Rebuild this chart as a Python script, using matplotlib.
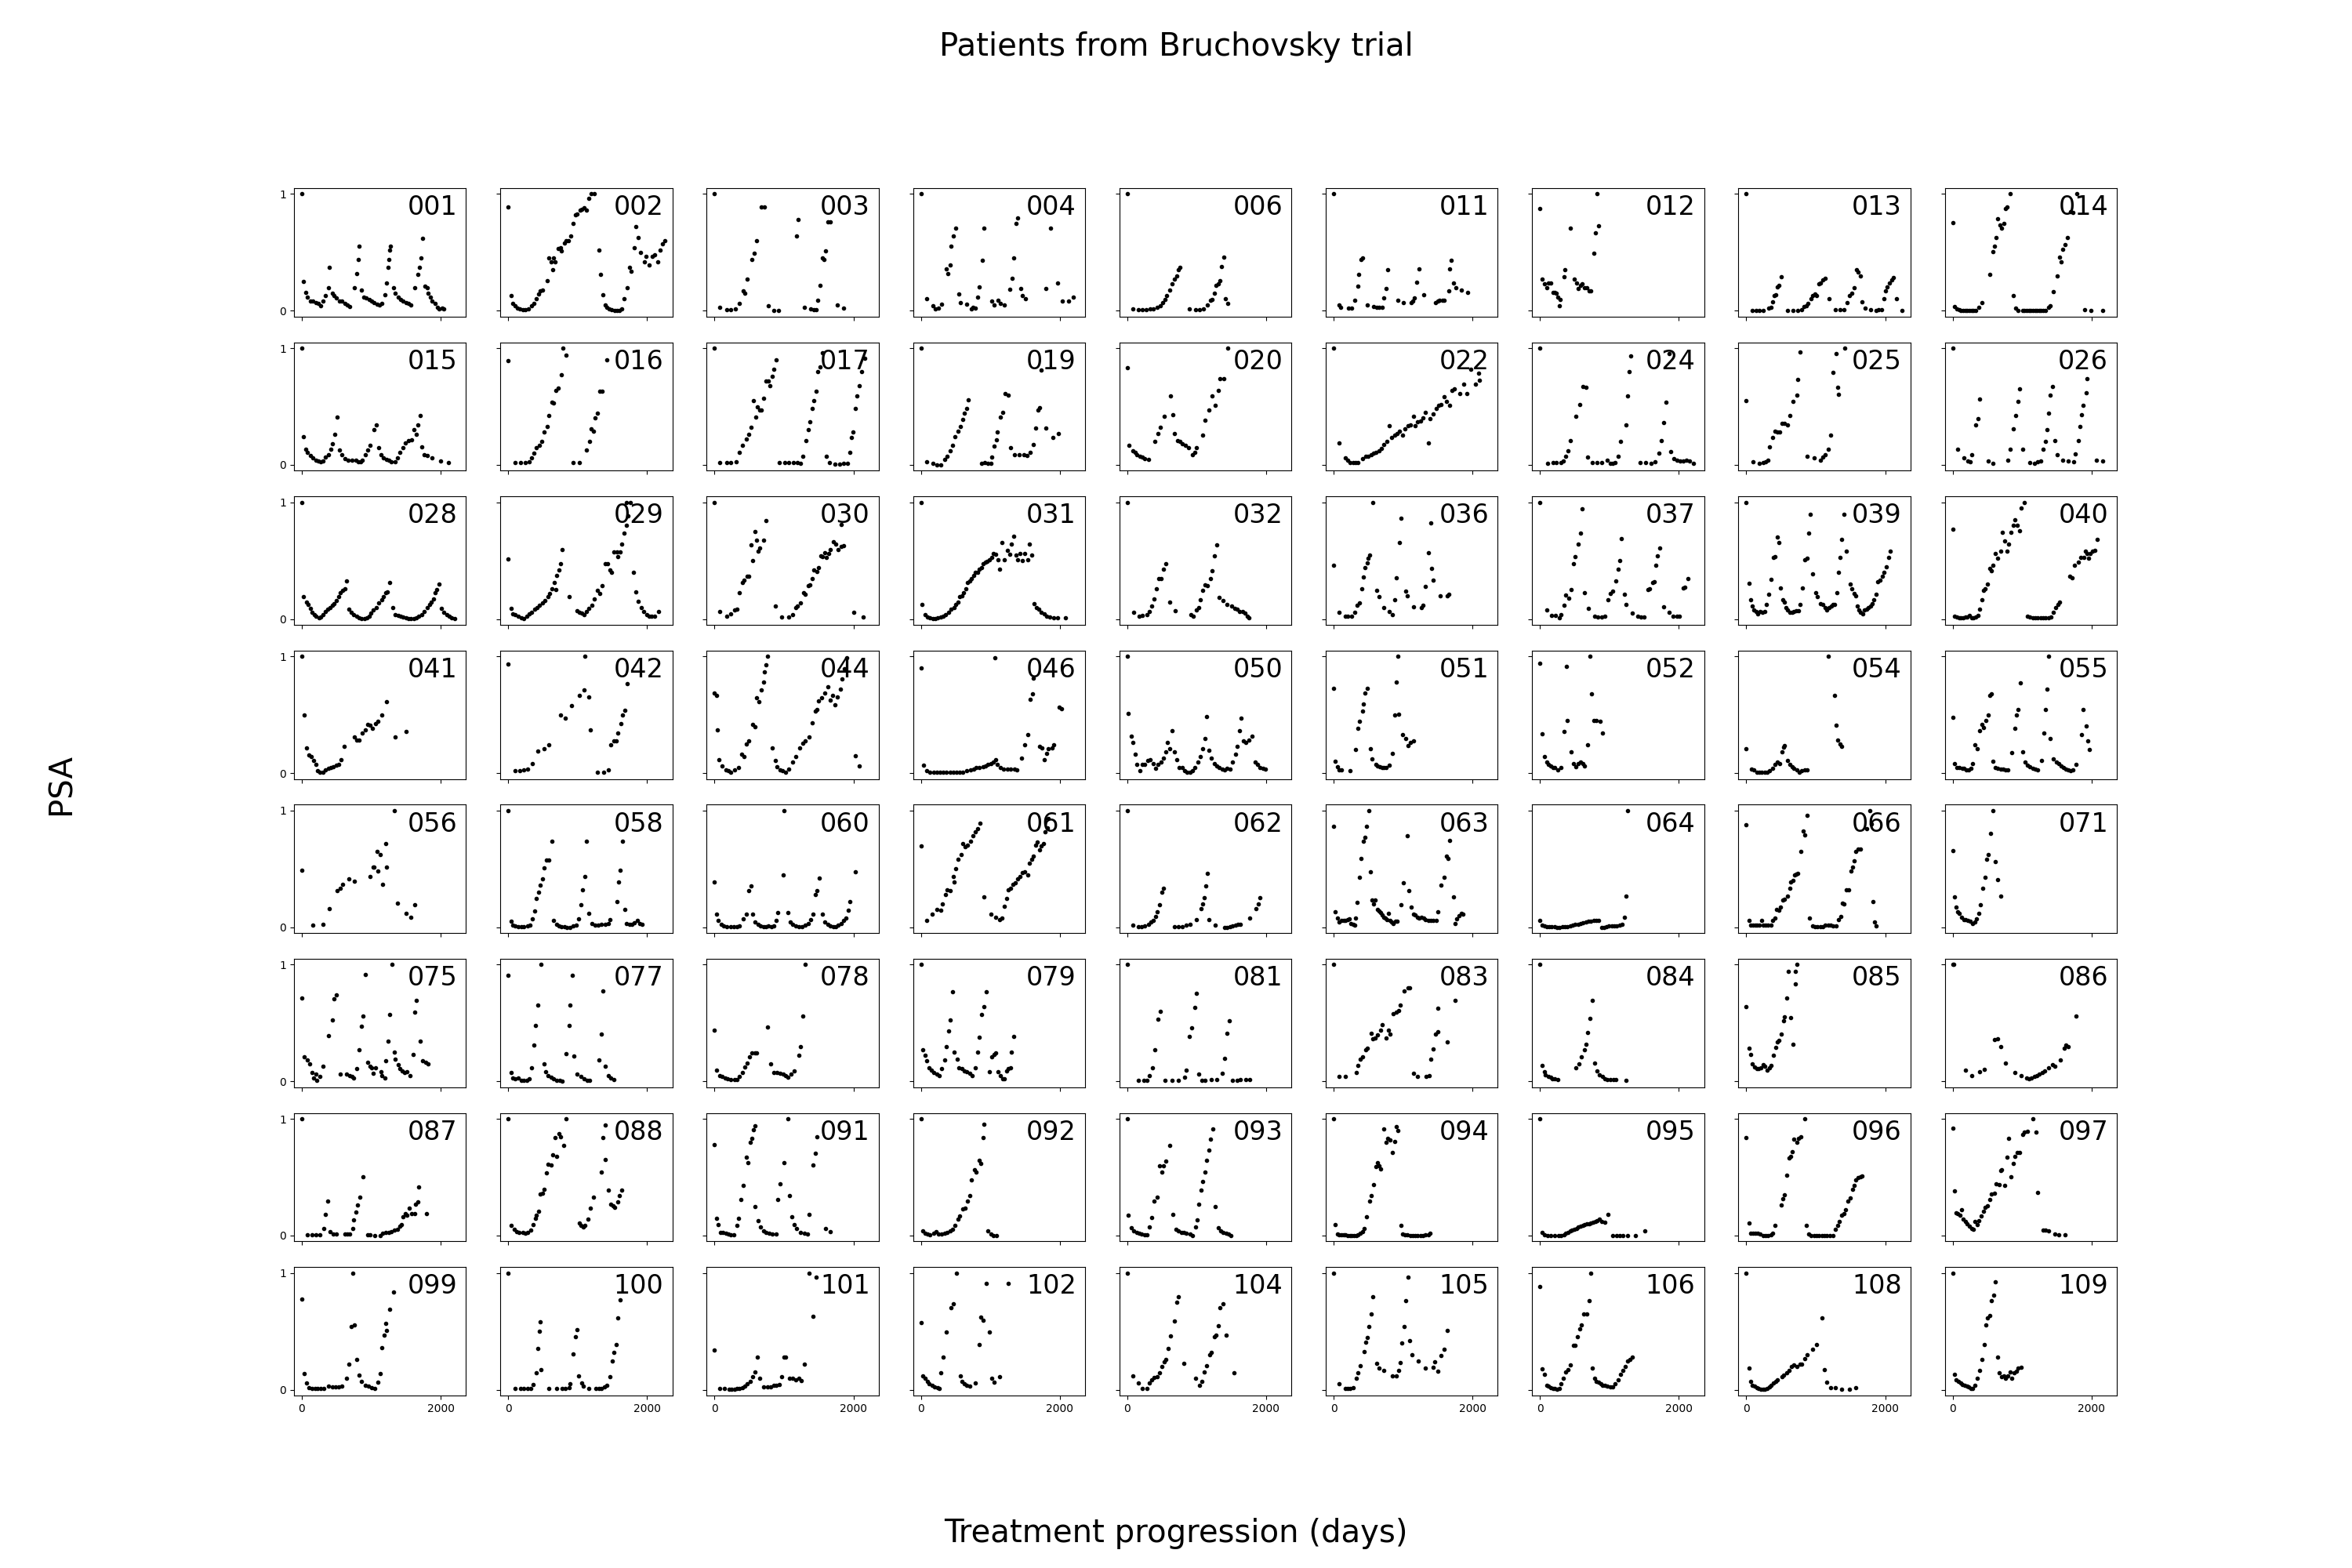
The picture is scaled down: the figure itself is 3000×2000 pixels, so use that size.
import matplotlib
matplotlib.use('Agg')
import matplotlib.pyplot as plt

# (day, normalised PSA) per patient
pts_001 = [(0, 1.0), (28, 0.25), (57, 0.155), (85, 0.12), (123, 0.08), (161, 0.08), (199, 0.07), (237, 0.06), (275, 0.04), (303, 0.08), (341, 0.13), (379, 0.2), (398, 0.37), (436, 0.15), (465, 0.13), (502, 0.11), (540, 0.08), (578, 0.08), (616, 0.065), (654, 0.05), (692, 0.035), (758, 0.2), (796, 0.32), (815, 0.44), (825, 0.55), (853, 0.18), (891, 0.12), (929, 0.11), (967, 0.095), (1005, 0.08), (1043, 0.07), (1081, 0.055), (1119, 0.05), (1147, 0.06), (1194, 0.14), (1223, 0.24), (1242, 0.375), (1251, 0.44), (1261, 0.52), (1280, 0.55), (1318, 0.2), (1346, 0.15), (1384, 0.12), (1422, 0.095), (1460, 0.08), (1498, 0.07), (1536, 0.06), (1574, 0.05), (1631, 0.2), (1668, 0.31), (1697, 0.375), (1716, 0.45), (1744, 0.62), (1773, 0.21), (1801, 0.2), (1820, 0.15), (1849, 0.12), (1877, 0.08), (1915, 0.06), (1953, 0.03), (1981, 0.015), (2019, 0.02), (2048, 0.015)]
pts_002 = [(0, 0.89), (38, 0.13), (66, 0.06), (95, 0.04), (133, 0.02), (171, 0.015), (209, 0.01), (247, 0.01), (295, 0.015), (332, 0.04), (370, 0.065), (408, 0.105), (437, 0.145), (465, 0.17), (494, 0.18), (560, 0.26), (589, 0.45), (617, 0.42), (636, 0.35), (655, 0.45), (674, 0.42), (722, 0.53), (750, 0.54), (769, 0.51), (807, 0.58), (836, 0.6), (864, 0.6), (902, 0.64), (940, 0.75), (969, 0.82), (997, 0.83), (1035, 0.86), (1064, 0.87), (1092, 0.88), (1130, 0.86), (1159, 0.96), (1197, 1.0), (1244, 1.0), (1302, 0.52), (1330, 0.31), (1359, 0.135), (1397, 0.05), (1425, 0.03), (1454, 0.015), (1492, 0.01), (1530, 0.005), (1568, 0.005), (1606, 0.005), (1634, 0.015), (1672, 0.105), (1710, 0.195), (1748, 0.375), (1767, 0.34), (1815, 0.54), (1843, 0.72), (1872, 0.63), (1910, 0.5), (1957, 0.42), (1986, 0.465), (2033, 0.39), (2071, 0.465), (2109, 0.48), (2156, 0.42), (2185, 0.52), (2223, 0.57), (2251, 0.6)]
pts_003 = [(0, 1.0), (76, 0.03), (171, 0.01), (228, 0.01), (295, 0.015), (361, 0.06), (418, 0.17), (437, 0.15), (466, 0.27), (542, 0.44), (570, 0.49), (608, 0.6), (675, 0.89), (713, 0.89), (779, 0.04), (855, 0.005), (922, 0.005), (1178, 0.64), (1207, 0.78), (1292, 0.03), (1387, 0.015), (1425, 0.01), (1463, 0.01), (1482, 0.09), (1520, 0.22), (1558, 0.45), (1577, 0.44), (1596, 0.51), (1634, 0.76), (1672, 0.76), (1767, 0.05), (1862, 0.02)]
pts_004 = [(0, 1.0), (85, 0.105), (171, 0.04), (209, 0.015), (256, 0.02), (294, 0.055), (370, 0.36), (389, 0.32), (418, 0.39), (437, 0.55), (465, 0.64), (503, 0.71), (541, 0.145), (570, 0.07), (655, 0.055), (722, 0.015), (750, 0.03), (779, 0.02), (817, 0.115), (845, 0.205), (883, 0.435), (912, 0.705), (1026, 0.085), (1054, 0.05), (1111, 0.09), (1149, 0.06), (1206, 0.05), (1282, 0.185), (1311, 0.28), (1339, 0.45), (1368, 0.745), (1396, 0.795), (1434, 0.19), (1463, 0.13), (1510, 0.1), (1795, 0.19), (1871, 0.71), (1966, 0.235), (2033, 0.085), (2128, 0.085), (2194, 0.115)]
pts_006 = [(0, 1.0), (76, 0.015), (161, 0.01), (218, 0.01), (276, 0.01), (333, 0.015), (380, 0.015), (428, 0.03), (475, 0.04), (513, 0.07), (541, 0.095), (570, 0.13), (608, 0.18), (646, 0.23), (684, 0.27), (712, 0.3), (741, 0.35), (760, 0.375), (893, 0.015), (988, 0.01), (1045, 0.01), (1102, 0.015), (1159, 0.05), (1197, 0.09), (1225, 0.095), (1254, 0.15), (1282, 0.22), (1311, 0.23), (1330, 0.26), (1358, 0.38), (1387, 0.46), (1415, 0.105), (1444, 0.065)]
pts_011 = [(0, 1.0), (75, 0.05), (97, 0.027), (210, 0.022), (262, 0.022), (307, 0.088), (345, 0.21), (360, 0.31), (390, 0.44), (412, 0.45), (487, 0.05), (577, 0.034), (622, 0.031), (659, 0.031), (697, 0.031), (727, 0.11), (757, 0.19), (779, 0.35), (921, 0.088), (1004, 0.072), (1116, 0.067), (1138, 0.083), (1168, 0.11), (1191, 0.245), (1228, 0.36), (1303, 0.14), (1468, 0.072), (1498, 0.083), (1528, 0.088), (1565, 0.088), (1595, 0.09), (1655, 0.17), (1670, 0.36), (1693, 0.43), (1730, 0.235), (1760, 0.2), (1835, 0.18), (1932, 0.157)]
pts_012 = [(0, 0.875), (37, 0.27), (67, 0.23), (97, 0.2), (127, 0.235), (157, 0.24), (187, 0.157), (217, 0.157), (232, 0.15), (262, 0.117), (285, 0.043), (292, 0.094), (345, 0.29), (360, 0.35), (434, 0.71), (494, 0.27), (524, 0.235), (554, 0.19), (584, 0.22), (607, 0.23), (644, 0.195), (674, 0.195), (704, 0.173), (726, 0.168), (779, 0.49), (801, 0.67), (824, 1.0), (846, 0.73)]
pts_013 = [(0, 1.0), (90, 0.005), (142, 0.0), (187, 0.0), (240, 0.0), (322, 0.022), (352, 0.027), (375, 0.076), (397, 0.128), (419, 0.14), (449, 0.207), (472, 0.218), (502, 0.29), (599, 0.0), (667, 0.0), (742, 0.0), (801, 0.009), (831, 0.038), (861, 0.045), (891, 0.06), (936, 0.1), (958, 0.128), (988, 0.144), (1011, 0.128), (1049, 0.23), (1071, 0.24), (1101, 0.267), (1131, 0.28), (1191, 0.1), (1281, 0.011), (1348, 0.009), (1401, 0.009), (1446, 0.067), (1491, 0.128), (1521, 0.15), (1551, 0.2), (1588, 0.353), (1611, 0.33), (1641, 0.3), (1663, 0.079), (1715, 0.022), (1790, 0.009), (1865, 0.004), (1903, 0.009), (1948, 0.009), (1985, 0.105), (2007, 0.17), (2030, 0.207), (2060, 0.24), (2090, 0.267), (2120, 0.285), (2165, 0.105), (2247, 0.004)]
pts_014 = [(0, 0.757), (30, 0.034), (60, 0.016), (90, 0.009), (120, 0.005), (150, 0.005), (180, 0.005), (210, 0.005), (240, 0.005), (270, 0.005), (300, 0.005), (337, 0.005), (382, 0.027), (419, 0.067), (532, 0.31), (577, 0.505), (599, 0.555), (629, 0.627), (652, 0.79), (682, 0.735), (704, 0.705), (734, 0.75), (764, 0.874), (787, 0.89), (824, 1.0), (869, 0.133), (906, 0.02), (944, 0.004), (1004, 0.004), (1034, 0.004), (1064, 0.004), (1094, 0.004), (1124, 0.004), (1154, 0.004), (1184, 0.004), (1214, 0.004), (1244, 0.004), (1274, 0.004), (1304, 0.004), (1341, 0.004), (1378, 0.027), (1408, 0.045), (1453, 0.166), (1506, 0.297), (1536, 0.46), (1566, 0.42), (1588, 0.528), (1618, 0.566), (1648, 0.627), (1701, 0.85), (1731, 0.84), (1790, 1.0), (1902, 0.009), (1992, 0.0), (2165, 0.0)]
pts_015 = [(0, 1.0), (28, 0.24), (57, 0.135), (85, 0.105), (123, 0.08), (161, 0.06), (199, 0.04), (237, 0.035), (275, 0.03), (303, 0.035), (341, 0.065), (379, 0.09), (418, 0.135), (446, 0.18), (475, 0.265), (503, 0.41), (541, 0.13), (579, 0.087), (617, 0.055), (665, 0.04), (722, 0.04), (779, 0.04), (817, 0.03), (845, 0.03), (874, 0.04), (912, 0.09), (950, 0.13), (979, 0.17), (1035, 0.3), (1073, 0.345), (1102, 0.15), (1140, 0.087), (1178, 0.06), (1216, 0.047), (1254, 0.04), (1292, 0.03), (1340, 0.03), (1377, 0.06), (1415, 0.11), (1453, 0.15), (1491, 0.19), (1539, 0.21), (1577, 0.215), (1615, 0.3), (1643, 0.265), (1672, 0.345), (1700, 0.42), (1729, 0.155), (1767, 0.09), (1805, 0.08), (1872, 0.06), (1995, 0.035), (2109, 0.02)]
pts_016 = [(0, 0.89), (95, 0.02), (180, 0.02), (247, 0.02), (304, 0.025), (342, 0.06), (370, 0.1), (408, 0.145), (446, 0.165), (484, 0.2), (513, 0.28), (560, 0.33), (589, 0.42), (627, 0.54), (655, 0.53), (684, 0.64), (722, 0.66), (760, 0.77), (789, 1.0), (836, 0.94), (931, 0.02), (1026, 0.02), (1130, 0.13), (1168, 0.2), (1197, 0.31), (1225, 0.29), (1254, 0.4), (1282, 0.44), (1320, 0.63), (1349, 0.63), (1415, 0.9)]
pts_017 = [(0, 1.0), (76, 0.02), (171, 0.02), (238, 0.02), (314, 0.025), (361, 0.11), (399, 0.165), (456, 0.22), (494, 0.265), (522, 0.32), (560, 0.55), (589, 0.41), (617, 0.5), (655, 0.47), (674, 0.47), (712, 0.57), (741, 0.72), (769, 0.72), (798, 0.68), (826, 0.76), (855, 0.82), (883, 0.9), (931, 0.02), (1007, 0.02), (1073, 0.02), (1140, 0.02), (1197, 0.02), (1235, 0.01), (1273, 0.075), (1311, 0.21), (1349, 0.3), (1377, 0.37), (1406, 0.48), (1434, 0.55), (1463, 0.63), (1491, 0.8), (1520, 0.84), (1548, 0.96), (1615, 0.075), (1653, 0.02), (1738, 0.005), (1805, 0.005), (1862, 0.01), (1910, 0.015), (1948, 0.11), (1976, 0.235), (1995, 0.28), (2024, 0.48), (2052, 0.59), (2081, 0.68), (2119, 0.8), (2166, 0.91)]
pts_019 = [(0, 1.0), (85, 0.03), (171, 0.015), (228, 0.002), (285, 0.002), (342, 0.047), (380, 0.075), (418, 0.12), (456, 0.17), (494, 0.24), (532, 0.29), (570, 0.33), (598, 0.39), (627, 0.44), (655, 0.48), (684, 0.56), (874, 0.01), (921, 0.02), (959, 0.013), (1007, 0.01), (1026, 0.07), (1054, 0.16), (1083, 0.215), (1102, 0.28), (1140, 0.41), (1178, 0.45), (1216, 0.61), (1254, 0.6), (1292, 0.145), (1349, 0.09), (1415, 0.087), (1482, 0.087), (1529, 0.083), (1577, 0.11), (1624, 0.177), (1653, 0.316), (1681, 0.47), (1710, 0.49), (1729, 0.81), (1795, 0.316), (1900, 0.235), (1976, 0.27)]
pts_020 = [(0, 0.83), (28, 0.165), (76, 0.12), (114, 0.11), (142, 0.087), (180, 0.076), (218, 0.065), (256, 0.055), (304, 0.047), (399, 0.2), (446, 0.27), (475, 0.325), (532, 0.415), (627, 0.59), (655, 0.43), (684, 0.27), (722, 0.21), (760, 0.2), (798, 0.18), (836, 0.165), (883, 0.15), (940, 0.087), (969, 0.11), (997, 0.15), (1083, 0.255), (1121, 0.38), (1178, 0.47), (1225, 0.59), (1263, 0.51), (1311, 0.64), (1339, 0.74), (1396, 0.74), (1444, 1.0)]
pts_022 = [(0, 1.0), (75, 0.19), (165, 0.058), (202, 0.038), (240, 0.02), (277, 0.02), (315, 0.02), (352, 0.02), (412, 0.054), (464, 0.076), (502, 0.076), (539, 0.087), (577, 0.099), (614, 0.11), (652, 0.121), (689, 0.143), (727, 0.177), (764, 0.2), (801, 0.334), (839, 0.233), (876, 0.256), (914, 0.267), (951, 0.29), (989, 0.256), (1026, 0.312), (1071, 0.334), (1108, 0.345), (1146, 0.413), (1176, 0.334), (1213, 0.368), (1251, 0.379), (1288, 0.401), (1326, 0.45), (1363, 0.19), (1386, 0.397), (1438, 0.435), (1476, 0.48), (1513, 0.513), (1551, 0.52), (1588, 0.587), (1626, 0.547), (1670, 0.507), (1700, 0.641), (1738, 0.648), (1813, 0.614), (1873, 0.693), (1918, 0.608), (1978, 0.816), (2038, 0.693), (2090, 0.783), (2098, 0.727)]
pts_024 = [(0, 1.0), (112, 0.01), (187, 0.02), (232, 0.02), (307, 0.02), (337, 0.031), (374, 0.076), (404, 0.121), (434, 0.206), (517, 0.417), (569, 0.518), (622, 0.67), (659, 0.666), (682, 0.065), (749, 0.02), (824, 0.02), (884, 0.02), (974, 0.043), (1011, 0.01), (1049, 0.013), (1086, 0.02), (1123, 0.076), (1161, 0.204), (1236, 0.345), (1258, 0.592), (1281, 0.8), (1311, 0.93), (1446, 0.02), (1521, 0.02), (1596, 0.016), (1656, 0.025), (1708, 0.1), (1746, 0.206), (1783, 0.36), (1813, 0.536), (1858, 0.95), (1888, 0.114), (1933, 0.054), (1970, 0.043), (2023, 0.031), (2068, 0.031), (2112, 0.038), (2157, 0.031), (2210, 0.016)]
pts_025 = [(0, 0.55), (97, 0.025), (187, 0.016), (240, 0.02), (277, 0.025), (315, 0.043), (337, 0.155), (374, 0.233), (412, 0.29), (449, 0.285), (479, 0.285), (517, 0.356), (554, 0.356), (592, 0.345), (629, 0.424), (667, 0.547), (727, 0.596), (741, 0.73), (779, 0.97), (876, 0.076), (974, 0.06), (1064, 0.043), (1101, 0.065), (1138, 0.087), (1176, 0.137), (1213, 0.256), (1251, 0.794), (1288, 0.955), (1311, 0.664), (1326, 0.603), (1423, 1.0)]
pts_026 = [(0, 1.0), (67, 0.132), (157, 0.06), (217, 0.031), (255, 0.025), (277, 0.087), (330, 0.345), (360, 0.395), (390, 0.563), (509, 0.031), (584, 0.013), (794, 0.038), (831, 0.132), (876, 0.307), (906, 0.424), (936, 0.547), (966, 0.648), (1004, 0.132), (1116, 0.02), (1176, 0.016), (1228, 0.025), (1266, 0.031), (1303, 0.132), (1333, 0.204), (1363, 0.3), (1386, 0.442), (1408, 0.596), (1438, 0.67), (1476, 0.206), (1506, 0.087), (1588, 0.043), (1663, 0.031), (1738, 0.025), (1768, 0.092), (1805, 0.206), (1828, 0.33), (1850, 0.43), (1880, 0.51), (1918, 0.62), (1940, 0.738), (2068, 0.038), (2165, 0.031)]
pts_028 = [(0, 1.0), (28, 0.19), (66, 0.145), (95, 0.123), (123, 0.09), (152, 0.06), (180, 0.038), (209, 0.022), (246, 0.011), (275, 0.018), (303, 0.038), (341, 0.067), (370, 0.083), (408, 0.1), (436, 0.118), (465, 0.134), (502, 0.156), (531, 0.19), (559, 0.223), (588, 0.246), (616, 0.257), (645, 0.328), (673, 0.083), (711, 0.06), (749, 0.038), (787, 0.022), (825, 0.011), (863, 0.007), (901, 0.007), (939, 0.011), (967, 0.022), (995, 0.051), (1033, 0.078), (1071, 0.1), (1109, 0.14), (1147, 0.167), (1176, 0.19), (1204, 0.223), (1233, 0.234), (1261, 0.31), (1308, 0.096), (1346, 0.038), (1384, 0.029), (1422, 0.022), (1460, 0.016), (1498, 0.011), (1536, 0.007), (1574, 0.007), (1612, 0.007), (1650, 0.011), (1687, 0.022), (1725, 0.038), (1763, 0.067), (1801, 0.1), (1839, 0.123), (1867, 0.145), (1896, 0.172), (1915, 0.223), (1943, 0.252), (1972, 0.297), (2010, 0.09), (2048, 0.06), (2086, 0.038), (2123, 0.022), (2161, 0.011), (2199, 0.007)]
pts_029 = [(0, 0.513), (38, 0.09), (66, 0.045), (104, 0.038), (142, 0.022), (190, 0.011), (228, 0.004), (265, 0.022), (303, 0.042), (341, 0.06), (379, 0.083), (417, 0.098), (455, 0.116), (493, 0.138), (531, 0.16), (569, 0.19), (597, 0.217), (635, 0.257), (664, 0.313), (683, 0.25), (702, 0.373), (730, 0.417), (759, 0.473), (778, 0.592), (873, 0.19), (986, 0.071), (1024, 0.06), (1062, 0.049), (1090, 0.038), (1128, 0.065), (1166, 0.094), (1204, 0.116), (1242, 0.172), (1280, 0.246), (1318, 0.217), (1355, 0.288), (1393, 0.473), (1431, 0.473), (1460, 0.417), (1488, 0.4), (1526, 0.574), (1564, 0.574), (1583, 0.533), (1611, 0.574), (1640, 0.645), (1668, 0.734), (1697, 0.8), (1706, 1.0), (1725, 0.882), (1763, 1.0), (1801, 0.4), (1839, 0.234), (1877, 0.15), (1915, 0.1), (1953, 0.067), (1991, 0.038), (2029, 0.022), (2067, 0.022), (2105, 0.022), (2161, 0.067)]
pts_030 = [(0, 1.0), (76, 0.067), (171, 0.022), (228, 0.042), (294, 0.078), (323, 0.087), (360, 0.223), (398, 0.313), (427, 0.335), (465, 0.364), (493, 0.364), (522, 0.636), (550, 0.5), (579, 0.752), (607, 0.678), (626, 0.578), (654, 0.607), (702, 0.674), (740, 0.846), (873, 0.112), (967, 0.018), (1071, 0.018), (1119, 0.038), (1166, 0.096), (1194, 0.112), (1232, 0.14), (1280, 0.223), (1308, 0.212), (1346, 0.288), (1374, 0.295), (1403, 0.346), (1431, 0.417), (1469, 0.406), (1498, 0.44), (1526, 0.54), (1555, 0.533), (1583, 0.567), (1612, 0.525), (1640, 0.563), (1668, 0.596), (1706, 0.663), (1744, 0.645), (1782, 0.596), (1820, 0.622), (1830, 0.81), (1858, 0.63), (2010, 0.06), (2142, 0.018)]
pts_031 = [(0, 1.0), (19, 0.123), (57, 0.038), (95, 0.018), (133, 0.011), (171, 0.004), (209, 0.004), (247, 0.011), (284, 0.018), (322, 0.022), (360, 0.038), (398, 0.06), (436, 0.087), (474, 0.1), (503, 0.123), (531, 0.145), (560, 0.19), (588, 0.2), (617, 0.223), (645, 0.257), (673, 0.313), (702, 0.328), (730, 0.346), (759, 0.372), (787, 0.4), (816, 0.4), (844, 0.424), (873, 0.44), (901, 0.473), (929, 0.484), (958, 0.495), (986, 0.507), (1015, 0.525), (1043, 0.563), (1081, 0.555), (1109, 0.507), (1138, 0.424), (1166, 0.652), (1204, 0.507), (1242, 0.59), (1280, 0.555), (1308, 0.64), (1336, 0.712), (1365, 0.551), (1393, 0.51), (1422, 0.563), (1460, 0.5), (1498, 0.563), (1536, 0.51), (1564, 0.645), (1593, 0.551), (1631, 0.13), (1659, 0.1), (1697, 0.083), (1735, 0.06), (1773, 0.042), (1811, 0.022), (1858, 0.016), (1915, 0.011), (1972, 0.011), (2086, 0.011)]
pts_032 = [(0, 1.0), (95, 0.06), (171, 0.022), (218, 0.029), (284, 0.038), (313, 0.065), (351, 0.112), (389, 0.172), (417, 0.26), (455, 0.346), (493, 0.346), (522, 0.424), (560, 0.473), (617, 0.145), (693, 0.071), (920, 0.038), (949, 0.022), (996, 0.078), (1024, 0.1), (1052, 0.167), (1090, 0.246), (1119, 0.295), (1157, 0.288), (1194, 0.346), (1223, 0.413), (1251, 0.54), (1289, 0.636), (1327, 0.183), (1374, 0.16), (1441, 0.127), (1507, 0.11), (1545, 0.094), (1583, 0.083), (1621, 0.065), (1659, 0.065), (1697, 0.049), (1734, 0.022), (1753, 0.011)]
pts_036 = [(0, 0.462), (75, 0.056), (165, 0.027), (202, 0.022), (262, 0.022), (300, 0.06), (337, 0.116), (375, 0.138), (405, 0.257), (427, 0.362), (457, 0.44), (480, 0.48), (502, 0.518), (517, 0.547), (562, 1.0), (622, 0.246), (652, 0.19), (727, 0.1), (801, 0.067), (846, 0.038), (884, 0.167), (899, 0.353), (944, 0.652), (974, 0.86), (1034, 0.239), (1064, 0.2), (1153, 0.105), (1266, 0.1), (1288, 0.116), (1326, 0.277), (1363, 0.57), (1401, 0.824), (1416, 0.435), (1438, 0.335), (1535, 0.2), (1640, 0.2), (1663, 0.212)]
pts_037 = [(0, 1.0), (97, 0.078), (172, 0.033), (225, 0.033), (285, 0.011), (307, 0.038), (345, 0.12), (374, 0.205), (412, 0.176), (449, 0.25), (487, 0.473), (509, 0.533), (547, 0.645), (584, 0.734), (607, 0.942), (644, 0.223), (697, 0.094), (787, 0.022), (831, 0.016), (884, 0.016), (936, 0.027), (981, 0.167), (1011, 0.22), (1049, 0.24), (1094, 0.328), (1123, 0.43), (1146, 0.5), (1176, 0.69), (1221, 0.212), (1243, 0.127), (1333, 0.049), (1408, 0.022), (1453, 0.016), (1498, 0.016), (1558, 0.25), (1581, 0.261), (1618, 0.31), (1648, 0.317), (1671, 0.462), (1693, 0.54), (1723, 0.607), (1783, 0.105), (1858, 0.06), (1918, 0.027), (1978, 0.022), (2008, 0.022), (2060, 0.266), (2090, 0.272), (2135, 0.346)]
pts_039 = [(0, 1.0), (37, 0.308), (60, 0.167), (90, 0.112), (112, 0.078), (142, 0.067), (165, 0.045), (202, 0.067), (232, 0.056), (262, 0.067), (292, 0.123), (322, 0.212), (352, 0.342), (389, 0.525), (412, 0.536), (442, 0.703), (464, 0.654), (494, 0.268), (524, 0.163), (547, 0.145), (569, 0.1), (599, 0.078), (629, 0.06), (659, 0.06), (689, 0.067), (719, 0.074), (749, 0.074), (772, 0.123), (809, 0.268), (846, 0.507), (876, 0.52), (899, 0.737), (921, 0.9), (959, 0.384), (996, 0.228), (1026, 0.194), (1064, 0.134), (1101, 0.127), (1138, 0.1), (1161, 0.078), (1191, 0.1), (1221, 0.112), (1251, 0.123), (1273, 0.127), (1303, 0.228), (1326, 0.402), (1348, 0.529), (1378, 0.681), (1401, 0.9), (1438, 0.583), (1498, 0.297), (1521, 0.257), (1551, 0.217), (1573, 0.2), (1603, 0.112), (1626, 0.078), (1648, 0.056), (1678, 0.045), (1701, 0.078), (1731, 0.083), (1761, 0.1), (1790, 0.112), (1813, 0.134), (1835, 0.167), (1865, 0.212), (1895, 0.319), (1925, 0.335), (1955, 0.368), (1985, 0.402), (2015, 0.446), (2045, 0.529), (2075, 0.583)]
pts_040 = [(0, 0.77), (30, 0.022), (60, 0.016), (90, 0.011), (120, 0.011), (150, 0.011), (180, 0.016), (210, 0.018), (240, 0.029), (270, 0.011), (300, 0.011), (330, 0.018), (360, 0.033), (389, 0.083), (419, 0.163), (449, 0.246), (472, 0.257), (502, 0.301), (532, 0.435), (554, 0.413), (584, 0.458), (614, 0.558), (644, 0.52), (689, 0.58), (719, 0.74), (749, 0.667), (779, 0.583), (809, 0.645), (839, 0.74), (876, 0.8), (899, 0.853), (929, 0.8), (959, 0.759), (989, 0.953), (1026, 1.0), (1079, 0.022), (1116, 0.016), (1153, 0.011), (1191, 0.011), (1228, 0.011), (1266, 0.011), (1303, 0.011), (1341, 0.011), (1378, 0.011), (1416, 0.016), (1453, 0.06), (1483, 0.1), (1513, 0.123), (1536, 0.145), (1685, 0.364), (1715, 0.355), (1753, 0.462), (1813, 0.484), (1843, 0.525), (1888, 0.529), (1910, 0.583), (1940, 0.56), (1962, 0.52), (1977, 0.56), (2015, 0.583), (2052, 0.59), (2082, 0.68)]
pts_041 = [(0, 1.0), (38, 0.498), (66, 0.219), (104, 0.158), (133, 0.14), (171, 0.107), (199, 0.078), (228, 0.018), (265, 0.011), (303, 0.011), (341, 0.025), (379, 0.04), (417, 0.051), (455, 0.056), (493, 0.067), (531, 0.078), (569, 0.118), (607, 0.23), (758, 0.308), (787, 0.286), (825, 0.286), (872, 0.342), (910, 0.368), (948, 0.42), (986, 0.408), (1015, 0.382), (1062, 0.424), (1100, 0.442), (1147, 0.498), (1223, 0.614), (1346, 0.308), (1507, 0.36)]
pts_042 = [(0, 0.933), (95, 0.018), (171, 0.022), (228, 0.025), (284, 0.033), (351, 0.08), (427, 0.192), (512, 0.208), (588, 0.246), (749, 0.498), (825, 0.469), (910, 0.576), (1024, 0.665), (1090, 0.714), (1109, 1.0), (1166, 0.654), (1185, 0.368), (1289, 0.011), (1374, 0.011), (1441, 0.025), (1479, 0.241), (1517, 0.275), (1555, 0.275), (1583, 0.342), (1621, 0.424), (1650, 0.498), (1678, 0.536), (1716, 0.766)]
pts_044 = [(0, 0.688), (28, 0.666), (38, 0.368), (66, 0.118), (104, 0.062), (161, 0.029), (199, 0.022), (237, 0.007), (294, 0.029), (341, 0.051), (389, 0.163), (427, 0.141), (455, 0.252), (493, 0.275), (550, 0.42), (579, 0.397), (607, 0.643), (635, 0.609), (673, 0.71), (702, 0.777), (721, 0.866), (740, 0.926), (768, 1.0), (835, 0.219), (873, 0.107), (901, 0.056), (939, 0.029), (977, 0.022), (1024, 0.007), (1071, 0.033), (1119, 0.092), (1166, 0.141), (1223, 0.219), (1270, 0.257), (1308, 0.275), (1356, 0.308), (1403, 0.431), (1450, 0.531), (1479, 0.547), (1498, 0.62), (1545, 0.643), (1593, 0.688), (1631, 0.743), (1669, 0.627), (1697, 0.666), (1735, 0.587), (1763, 0.654), (1811, 0.721), (1839, 0.81), (1867, 0.893), (1905, 0.989), (2029, 0.152), (2086, 0.062)]
pts_046 = [(0, 0.9), (38, 0.067), (85, 0.018), (133, 0.007), (180, 0.007), (228, 0.007), (275, 0.007), (322, 0.007), (370, 0.007), (417, 0.007), (465, 0.007), (512, 0.007), (560, 0.007), (607, 0.011), (664, 0.018), (720, 0.029), (758, 0.033), (796, 0.045), (844, 0.051), (891, 0.056), (929, 0.062), (967, 0.074), (1005, 0.085), (1043, 0.096), (1062, 0.989), (1081, 0.118), (1100, 0.078), (1147, 0.047), (1194, 0.033), (1242, 0.033), (1289, 0.033), (1346, 0.033), (1384, 0.029), (1450, 0.13), (1498, 0.241), (1536, 0.33), (1574, 0.632), (1602, 0.676), (1621, 0.815), (1706, 0.23), (1744, 0.219), (1773, 0.118), (1811, 0.167), (1839, 0.208), (1887, 0.219), (1915, 0.241), (1991, 0.565), (2029, 0.554)]
pts_050 = [(0, 1.0), (19, 0.51), (57, 0.319), (76, 0.263), (114, 0.163), (142, 0.074), (180, 0.018), (218, 0.074), (256, 0.074), (294, 0.107), (332, 0.118), (370, 0.08), (408, 0.04), (446, 0.074), (484, 0.096), (522, 0.13), (550, 0.185), (579, 0.263), (607, 0.208), (645, 0.364), (683, 0.185), (711, 0.118), (749, 0.051), (787, 0.051), (825, 0.018), (863, 0.011), (901, 0.011), (939, 0.018), (977, 0.051), (1014, 0.096), (1052, 0.141), (1090, 0.208), (1119, 0.297), (1147, 0.487), (1175, 0.197), (1213, 0.13), (1251, 0.085), (1289, 0.062), (1327, 0.051), (1365, 0.033), (1403, 0.029), (1441, 0.04), (1479, 0.033), (1517, 0.096), (1555, 0.163), (1583, 0.23), (1612, 0.364), (1640, 0.469), (1669, 0.275), (1707, 0.263), (1754, 0.286), (1792, 0.315), (1839, 0.096), (1877, 0.074), (1915, 0.051), (1953, 0.04), (1991, 0.033)]
pts_051 = [(0, 0.728), (22, 0.1), (52, 0.056), (82, 0.025), (112, 0.025), (240, 0.018), (315, 0.2), (352, 0.382), (375, 0.442), (412, 0.531), (427, 0.592), (457, 0.683), (487, 0.728), (525, 0.212), (555, 0.125), (607, 0.078), (637, 0.062), (667, 0.056), (697, 0.051), (727, 0.047), (757, 0.051), (801, 0.07), (846, 0.167), (876, 0.498), (899, 0.777), (921, 1.0), (936, 0.502), (996, 0.33), (1041, 0.297), (1071, 0.234), (1101, 0.263), (1146, 0.279)]
pts_052 = [(0, 0.944), (37, 0.335), (67, 0.141), (97, 0.096), (127, 0.074), (157, 0.062), (187, 0.051), (217, 0.045), (262, 0.025), (300, 0.051), (345, 0.357), (382, 0.911), (397, 0.449), (449, 0.185), (487, 0.085), (517, 0.056), (554, 0.085), (584, 0.096), (614, 0.085), (637, 0.062), (682, 0.241), (719, 1.0), (741, 0.676), (779, 0.453), (816, 0.453), (869, 0.442), (906, 0.346)]
pts_054 = [(0, 0.208), (75, 0.033), (112, 0.025), (150, 0.011), (187, 0.007), (225, 0.007), (262, 0.007), (300, 0.011), (337, 0.018), (374, 0.04), (412, 0.074), (449, 0.092), (479, 0.085), (517, 0.185), (539, 0.223), (554, 0.234), (592, 0.107), (622, 0.074), (659, 0.056), (689, 0.04), (727, 0.025), (764, 0.011), (801, 0.018), (839, 0.025), (876, 0.029), (1183, 1.0), (1266, 0.665), (1288, 0.408), (1311, 0.286), (1348, 0.252), (1378, 0.23)]
pts_055 = [(0, 0.48), (30, 0.085), (60, 0.051), (97, 0.051), (135, 0.04), (165, 0.04), (195, 0.029), (225, 0.025), (262, 0.04), (292, 0.085), (322, 0.241), (352, 0.208), (389, 0.364), (419, 0.415), (449, 0.39), (479, 0.453), (509, 0.498), (532, 0.665), (554, 0.681), (577, 0.1), (614, 0.051), (652, 0.04), (689, 0.033), (727, 0.033), (764, 0.025), (794, 0.025), (854, 0.176), (891, 0.382), (914, 0.498), (936, 0.542), (974, 0.77), (1004, 0.185), (1041, 0.096), (1079, 0.069), (1116, 0.056), (1153, 0.04), (1191, 0.033), (1228, 0.029), (1281, 0.107), (1311, 0.342), (1341, 0.542), (1363, 0.721), (1378, 1.0), (1401, 0.297), (1453, 0.123), (1491, 0.096), (1528, 0.085), (1558, 0.062), (1596, 0.051), (1633, 0.033), (1663, 0.025), (1693, 0.018), (1730, 0.025), (1775, 0.078), (1850, 0.33), (1873, 0.542), (1918, 0.402), (1948, 0.275), (1970, 0.2)]
pts_056 = [(0, 0.491), (161, 0.016), (303, 0.022), (398, 0.16), (512, 0.313), (550, 0.335), (588, 0.368), (673, 0.417), (758, 0.397), (986, 0.435), (1024, 0.513), (1043, 0.518), (1081, 0.652), (1100, 0.48), (1128, 0.625), (1166, 0.368), (1204, 0.719), (1223, 0.518), (1327, 1.0), (1374, 0.205), (1507, 0.116), (1564, 0.085), (1631, 0.19)]
pts_058 = [(0, 1.0), (38, 0.049), (66, 0.018), (104, 0.011), (142, 0.007), (190, 0.007), (228, 0.007), (275, 0.011), (313, 0.016), (351, 0.071), (379, 0.138), (408, 0.246), (436, 0.301), (465, 0.362), (493, 0.413), (522, 0.509), (550, 0.576), (588, 0.576), (626, 0.737), (655, 0.056), (693, 0.022), (731, 0.011), (769, 0.007), (807, 0.007), (845, 0.0), (892, 0.0), (940, 0.011), (978, 0.016), (1016, 0.071), (1043, 0.19), (1071, 0.324), (1100, 0.435), (1128, 0.737), (1157, 0.116), (1204, 0.033), (1252, 0.018), (1299, 0.018), (1346, 0.022), (1394, 0.022), (1441, 0.033), (1469, 0.067), (1564, 0.219), (1593, 0.39), (1612, 0.487), (1650, 0.737), (1678, 0.156), (1707, 0.033), (1745, 0.027), (1783, 0.027), (1820, 0.04), (1858, 0.062), (1896, 0.033), (1934, 0.022)]
pts_060 = [(0, 0.39), (28, 0.112), (57, 0.056), (95, 0.022), (133, 0.011), (180, 0.007), (228, 0.007), (275, 0.007), (322, 0.007), (360, 0.011), (417, 0.071), (455, 0.112), (493, 0.317), (522, 0.357), (550, 0.112), (588, 0.045), (626, 0.022), (664, 0.011), (702, 0.007), (740, 0.007), (778, 0.011), (816, 0.007), (854, 0.011), (883, 0.056), (911, 0.123), (987, 0.446), (1005, 1.0), (1062, 0.123), (1090, 0.045), (1128, 0.022), (1166, 0.011), (1213, 0.007), (1261, 0.007), (1308, 0.018), (1346, 0.033), (1384, 0.067), (1422, 0.112), (1450, 0.279), (1479, 0.313), (1507, 0.42), (1555, 0.112), (1593, 0.045), (1631, 0.022), (1669, 0.011), (1706, 0.007), (1744, 0.007), (1782, 0.018), (1820, 0.033), (1858, 0.056), (1896, 0.078), (1924, 0.145), (1953, 0.219), (2029, 0.475)]
pts_061 = [(0, 0.696), (85, 0.062), (161, 0.112), (228, 0.156), (285, 0.145), (313, 0.2), (351, 0.279), (379, 0.324), (417, 0.313), (465, 0.435), (474, 0.39), (503, 0.502), (531, 0.585), (579, 0.625), (607, 0.719), (636, 0.69), (674, 0.701), (712, 0.737), (750, 0.781), (788, 0.815), (816, 0.842), (854, 0.893), (911, 0.263), (1005, 0.112), (1081, 0.089), (1128, 0.067), (1166, 0.078), (1204, 0.179), (1232, 0.25), (1261, 0.324), (1289, 0.335), (1327, 0.368), (1356, 0.379), (1394, 0.413), (1422, 0.435), (1460, 0.469), (1498, 0.473), (1536, 0.446), (1564, 0.547), (1593, 0.58), (1621, 0.607), (1650, 0.705), (1678, 0.728), (1707, 0.661), (1735, 0.696), (1763, 0.714), (1792, 0.815), (1820, 0.853), (1839, 0.935)]
pts_062 = [(0, 1.0), (76, 0.018), (161, 0.007), (209, 0.007), (256, 0.011), (304, 0.022), (341, 0.045), (379, 0.056), (408, 0.094), (436, 0.13), (465, 0.19), (494, 0.301), (522, 0.335), (683, 0.007), (740, 0.007), (797, 0.007), (854, 0.018), (901, 0.027), (996, 0.067), (1062, 0.16), (1090, 0.2), (1109, 0.256), (1128, 0.357), (1157, 0.462), (1176, 0.067), (1261, 0.018), (1403, 0.0), (1441, 0.0), (1479, 0.007), (1517, 0.011), (1555, 0.018), (1593, 0.022), (1631, 0.027), (1764, 0.078), (1858, 0.16), (1887, 0.2), (1915, 0.256)]
pts_063 = [(0, 0.864), (22, 0.13), (52, 0.078), (82, 0.045), (112, 0.056), (142, 0.056), (172, 0.06), (202, 0.067), (225, 0.071), (247, 0.033), (277, 0.022), (300, 0.018), (315, 0.078), (337, 0.216), (367, 0.429), (397, 0.592), (427, 0.737), (449, 0.768), (479, 0.864), (509, 1.0), (532, 0.473), (554, 0.234), (577, 0.2), (599, 0.234), (629, 0.156), (652, 0.138), (674, 0.123), (697, 0.107), (719, 0.089), (742, 0.078), (764, 0.067), (787, 0.116), (809, 0.062), (839, 0.045), (862, 0.033), (891, 0.049), (914, 0.049), (966, 0.196), (1004, 0.384), (1064, 0.786), (1086, 0.317), (1116, 0.174), (1146, 0.112), (1176, 0.107), (1206, 0.089), (1236, 0.078), (1266, 0.089), (1296, 0.078), (1326, 0.067), (1363, 0.062), (1401, 0.056), (1438, 0.056), (1476, 0.056), (1506, 0.13), (1550, 0.362), (1588, 0.429), (1626, 0.607), (1648, 0.592), (1670, 0.747), (1723, 0.261), (1745, 0.033), (1775, 0.071), (1805, 0.1), (1835, 0.118), (1858, 0.112)]
pts_064 = [(0, 0.056), (30, 0.018), (60, 0.011), (97, 0.007), (135, 0.007), (172, 0.007), (210, 0.004), (247, 0.0), (285, 0.0), (322, 0.004), (360, 0.007), (397, 0.007), (434, 0.011), (472, 0.018), (509, 0.022), (547, 0.027), (584, 0.033), (622, 0.04), (659, 0.045), (697, 0.049), (734, 0.051), (772, 0.056), (809, 0.056), (846, 0.056), (884, 0.0), (921, 0.0), (959, 0.004), (996, 0.011), (1034, 0.011), (1071, 0.011), (1109, 0.011), (1146, 0.018), (1183, 0.027), (1213, 0.085), (1243, 0.268), (1266, 1.0)]
pts_066 = [(0, 0.877), (37, 0.06), (67, 0.016), (97, 0.016), (127, 0.016), (157, 0.016), (187, 0.016), (217, 0.06), (247, 0.016), (277, 0.016), (315, 0.016), (352, 0.016), (375, 0.06), (412, 0.078), (434, 0.156), (472, 0.145), (494, 0.174), (524, 0.234), (554, 0.241), (592, 0.268), (622, 0.335), (644, 0.391), (667, 0.402), (697, 0.446), (719, 0.458), (742, 0.462), (787, 0.652), (824, 0.826), (846, 0.792), (876, 0.96), (914, 0.078), (951, 0.011), (989, 0.007), (1026, 0.007), (1064, 0.007), (1101, 0.007), (1138, 0.018), (1176, 0.018), (1213, 0.018), (1251, 0.011), (1288, 0.011), (1326, 0.067), (1363, 0.094), (1386, 0.205), (1408, 0.2), (1438, 0.324), (1476, 0.324), (1506, 0.484), (1528, 0.518), (1558, 0.569), (1581, 0.652), (1611, 0.67), (1648, 0.67), (1738, 0.842), (1775, 1.0), (1805, 0.882), (1820, 0.219), (1843, 0.045), (1873, 0.011)]
pts_071 = [(0, 0.658), (22, 0.263), (45, 0.174), (67, 0.13), (97, 0.118), (127, 0.089), (157, 0.067), (187, 0.067), (217, 0.056), (255, 0.049), (285, 0.033), (315, 0.045), (345, 0.074), (375, 0.118), (404, 0.19), (434, 0.335), (464, 0.431), (494, 0.58), (517, 0.625), (547, 0.806), (584, 1.0), (614, 0.56), (644, 0.409), (689, 0.27)]
pts_075 = [(0, 0.717), (38, 0.208), (85, 0.181), (114, 0.147), (152, 0.074), (171, 0.029), (199, 0.062), (218, 0.007), (256, 0.045), (303, 0.129), (379, 0.391), (436, 0.525), (465, 0.705), (493, 0.743), (550, 0.062), (645, 0.062), (692, 0.051), (721, 0.045), (749, 0.029), (787, 0.107), (825, 0.268), (863, 0.475), (882, 0.558), (920, 0.915), (948, 0.163), (977, 0.129), (1005, 0.118), (1033, 0.067), (1062, 0.118), (1138, 0.085), (1157, 0.051), (1194, 0.029), (1213, 0.174), (1242, 0.342), (1270, 0.571), (1299, 1.0), (1327, 0.252), (1346, 0.19), (1384, 0.141), (1413, 0.112), (1450, 0.089), (1479, 0.074), (1517, 0.08), (1555, 0.051), (1602, 0.234), (1631, 0.592), (1650, 0.692), (1707, 0.348), (1744, 0.174), (1782, 0.163), (1820, 0.147)]
pts_077 = [(0, 0.911), (38, 0.074), (66, 0.029), (104, 0.022), (142, 0.029), (190, 0.007), (228, 0.007), (265, 0.007), (303, 0.022), (341, 0.118), (370, 0.313), (398, 0.48), (427, 0.654), (474, 1.0), (512, 0.152), (541, 0.085), (579, 0.051), (617, 0.033), (655, 0.022), (702, 0.007), (740, 0.007), (778, 0.0), (835, 0.237), (873, 0.48), (892, 0.654), (920, 0.911), (949, 0.219), (996, 0.062), (1043, 0.045), (1090, 0.022), (1138, 0.007), (1176, 0.007), (1308, 0.185), (1346, 0.408), (1365, 0.777), (1394, 0.129), (1441, 0.051), (1479, 0.029), (1517, 0.018)]
pts_078 = [(0, 0.442), (28, 0.096), (76, 0.051), (114, 0.04), (152, 0.029), (190, 0.022), (237, 0.013), (285, 0.013), (322, 0.018), (360, 0.04), (398, 0.074), (436, 0.123), (474, 0.156), (503, 0.208), (541, 0.241), (579, 0.246), (607, 0.241), (768, 0.464), (806, 0.152), (853, 0.074), (901, 0.074), (948, 0.067), (986, 0.062), (1024, 0.051), (1062, 0.036), (1100, 0.062), (1147, 0.089), (1213, 0.223), (1232, 0.301), (1270, 0.558), (1308, 1.0)]
pts_079 = [(0, 1.0), (28, 0.268), (57, 0.223), (85, 0.174), (114, 0.118), (152, 0.096), (190, 0.074), (228, 0.062), (265, 0.051), (303, 0.107), (341, 0.185), (370, 0.297), (398, 0.435), (427, 0.525), (455, 0.766), (484, 0.252), (522, 0.19), (550, 0.118), (588, 0.107), (626, 0.089), (664, 0.085), (702, 0.067), (740, 0.051), (778, 0.118), (816, 0.252), (844, 0.379), (873, 0.576), (911, 0.643), (939, 0.766), (987, 0.085), (1015, 0.208), (1052, 0.23), (1081, 0.246), (1109, 0.085), (1147, 0.051), (1176, 0.022), (1204, 0.022), (1232, 0.089), (1261, 0.107), (1289, 0.118), (1308, 0.252), (1337, 0.386)]
pts_081 = [(0, 1.0), (161, 0.007), (237, 0.007), (285, 0.007), (322, 0.051), (360, 0.118), (398, 0.268), (446, 0.531), (475, 0.603), (541, 0.007), (645, 0.007), (731, 0.007), (826, 0.036), (854, 0.096), (892, 0.386), (930, 0.46), (968, 0.632), (996, 0.754), (1024, 0.062), (1071, 0.007), (1119, 0.007), (1213, 0.013), (1289, 0.013), (1365, 0.067), (1403, 0.196), (1441, 0.413), (1469, 0.52), (1517, 0.007), (1583, 0.007), (1631, 0.013), (1707, 0.018), (1764, 0.018)]
pts_083 = [(0, 1.0), (75, 0.04), (165, 0.04), (322, 0.074), (352, 0.134), (389, 0.19), (412, 0.208), (464, 0.268), (487, 0.286), (539, 0.415), (569, 0.364), (599, 0.375), (629, 0.397), (674, 0.442), (704, 0.487), (757, 0.371), (794, 0.438), (816, 0.408), (861, 0.58), (899, 0.594), (936, 0.609), (959, 0.654), (1019, 0.777), (1071, 0.8), (1093, 0.804), (1146, 0.067), (1206, 0.04), (1333, 0.04), (1378, 0.051), (1401, 0.19), (1438, 0.275), (1468, 0.408), (1498, 0.625), (1506, 0.424), (1633, 0.335), (1745, 0.692)]
pts_084 = [(0, 1.0), (37, 0.134), (60, 0.085), (82, 0.058), (120, 0.045), (150, 0.033), (180, 0.022), (217, 0.022), (262, 0.013), (517, 0.118), (562, 0.152), (599, 0.208), (644, 0.268), (667, 0.319), (689, 0.42), (719, 0.542), (749, 0.692), (786, 0.156), (824, 0.089), (854, 0.058), (899, 0.045), (936, 0.022), (974, 0.013), (1011, 0.018), (1056, 0.013), (1094, 0.018), (1236, 0.007)]
pts_085 = [(0, 0.643), (37, 0.286), (60, 0.23), (90, 0.152), (120, 0.125), (150, 0.107), (180, 0.107), (210, 0.118), (240, 0.141), (270, 0.129), (300, 0.096), (330, 0.118), (360, 0.134), (389, 0.223), (419, 0.29), (449, 0.335), (472, 0.353), (502, 0.402), (532, 0.52), (554, 0.554), (577, 0.717), (607, 0.944), (644, 0.549), (667, 0.319), (704, 0.833), (711, 0.944), (734, 1.0)]
pts_086 = [(0, 1.0), (15, 1.0), (180, 0.096), (270, 0.051), (389, 0.085), (457, 0.103), (607, 0.357), (652, 0.364), (689, 0.3), (764, 0.159), (899, 0.078), (989, 0.051), (1064, 0.029), (1101, 0.022), (1138, 0.029), (1176, 0.04), (1213, 0.051), (1251, 0.062), (1288, 0.074), (1326, 0.089), (1378, 0.118), (1438, 0.141), (1476, 0.129), (1551, 0.185), (1603, 0.286), (1626, 0.308), (1663, 0.297), (1775, 0.558)]
pts_087 = [(0, 1.0), (85, 0.007), (152, 0.007), (209, 0.007), (265, 0.007), (313, 0.063), (341, 0.182), (370, 0.298), (408, 0.036), (455, 0.013), (502, 0.011), (616, 0.011), (654, 0.011), (692, 0.011), (730, 0.063), (749, 0.137), (778, 0.204), (797, 0.26), (834, 0.332), (882, 0.505), (948, 0.007), (986, 0.007), (1052, 0.0), (1128, 0.002), (1166, 0.018), (1213, 0.025), (1251, 0.029), (1289, 0.034), (1337, 0.047), (1375, 0.056), (1413, 0.078), (1432, 0.096), (1460, 0.159), (1488, 0.186), (1517, 0.175), (1545, 0.235), (1583, 0.191), (1621, 0.191), (1640, 0.265), (1669, 0.287), (1678, 0.415), (1792, 0.191)]
pts_088 = [(0, 1.0), (47, 0.09), (85, 0.052), (123, 0.034), (161, 0.029), (209, 0.025), (247, 0.018), (284, 0.025), (322, 0.047), (360, 0.096), (389, 0.146), (408, 0.175), (436, 0.209), (465, 0.354), (493, 0.361), (522, 0.399), (550, 0.538), (579, 0.612), (617, 0.605), (645, 0.691), (674, 0.841), (702, 0.679), (731, 0.87), (759, 0.848), (797, 0.774), (835, 1.0), (1024, 0.108), (1052, 0.085), (1081, 0.074), (1109, 0.085), (1147, 0.141), (1185, 0.235), (1223, 0.332), (1337, 0.545), (1365, 0.836), (1393, 0.948), (1403, 0.652), (1441, 0.388), (1479, 0.265), (1507, 0.253), (1536, 0.242), (1574, 0.287), (1602, 0.343), (1631, 0.392)]
pts_091 = [(0, 0.776), (28, 0.146), (47, 0.092), (85, 0.029), (123, 0.025), (161, 0.018), (199, 0.011), (237, 0.007), (275, 0.007), (322, 0.085), (341, 0.146), (379, 0.309), (408, 0.428), (455, 0.668), (484, 0.623), (512, 0.798), (541, 0.832), (560, 0.908), (579, 0.942), (588, 0.249), (626, 0.13), (664, 0.074), (702, 0.04), (740, 0.029), (787, 0.018), (835, 0.011), (882, 0.011), (910, 0.309), (948, 0.444), (996, 0.623), (1062, 1.0), (1081, 0.343), (1109, 0.164), (1147, 0.096), (1185, 0.063), (1242, 0.029), (1289, 0.018), (1337, 0.011), (1365, 0.179), (1422, 0.605), (1450, 0.706), (1469, 0.848), (1602, 0.063), (1669, 0.034)]
pts_092 = [(0, 1.0), (28, 0.04), (57, 0.018), (95, 0.011), (133, 0.007), (180, 0.018), (218, 0.034), (256, 0.011), (294, 0.011), (341, 0.018), (379, 0.029), (417, 0.04), (455, 0.056), (493, 0.085), (531, 0.141), (560, 0.168), (598, 0.231), (636, 0.235), (674, 0.298), (702, 0.343), (731, 0.478), (769, 0.567), (798, 0.545), (836, 0.646), (864, 0.617), (893, 0.841), (912, 0.953), (959, 0.04), (1007, 0.011), (1045, 0.0), (1092, 0.0)]
pts_093 = [(0, 1.0), (19, 0.175), (57, 0.07), (95, 0.04), (133, 0.029), (171, 0.018), (209, 0.011), (247, 0.007), (285, 0.007), (313, 0.074), (351, 0.152), (389, 0.294), (427, 0.332), (465, 0.594), (494, 0.545), (522, 0.594), (560, 0.639), (617, 0.773), (654, 0.182), (702, 0.052), (740, 0.04), (778, 0.029), (816, 0.025), (854, 0.018), (901, 0.011), (939, 0.002), (987, 0.074), (1006, 0.134), (1034, 0.265), (1062, 0.388), (1090, 0.466), (1119, 0.545), (1147, 0.646), (1176, 0.731), (1204, 0.825), (1232, 0.91), (1270, 0.249), (1308, 0.07), (1346, 0.04), (1384, 0.029), (1422, 0.018), (1460, 0.011), (1498, 0.002)]
pts_094 = [(0, 1.0), (22, 0.096), (52, 0.011), (82, 0.007), (112, 0.007), (142, 0.007), (172, 0.007), (202, 0.002), (232, 0.0), (262, 0.0), (292, 0.0), (322, 0.002), (352, 0.007), (382, 0.018), (412, 0.034), (442, 0.063), (479, 0.164), (517, 0.298), (539, 0.339), (577, 0.433), (614, 0.59), (637, 0.623), (652, 0.594), (682, 0.572), (727, 0.91), (757, 0.796), (779, 0.832), (809, 0.818), (846, 0.713), (876, 0.803), (899, 0.93), (921, 0.9), (966, 0.085), (996, 0.011), (1026, 0.007), (1064, 0.004), (1101, 0.0), (1138, 0.0), (1176, 0.0), (1213, 0.0), (1251, 0.0), (1288, 0.002), (1326, 0.007), (1363, 0.007), (1393, 0.018)]
pts_095 = [(0, 1.0), (37, 0.025), (67, 0.007), (105, 0.0), (150, 0.0), (210, 0.0), (270, 0.0), (307, 0.0), (345, 0.007), (374, 0.018), (404, 0.029), (434, 0.04), (464, 0.047), (494, 0.056), (524, 0.063), (554, 0.074), (584, 0.078), (614, 0.085), (644, 0.096), (674, 0.101), (704, 0.103), (734, 0.108), (764, 0.114), (794, 0.123), (824, 0.13), (854, 0.141), (884, 0.119), (929, 0.114), (978, 0.182), (1049, 0.0), (1109, 0.0), (1153, 0.0), (1198, 0.0), (1258, 0.0), (1371, 0.0), (1506, 0.04)]
pts_096 = [(0, 0.841), (37, 0.108), (67, 0.018), (97, 0.018), (127, 0.018), (165, 0.018), (202, 0.011), (240, 0.0), (277, 0.0), (315, 0.0), (352, 0.007), (382, 0.018), (412, 0.09), (502, 0.26), (524, 0.316), (547, 0.348), (584, 0.52), (614, 0.666), (644, 0.677), (659, 0.715), (689, 0.827), (727, 0.8), (749, 0.834), (787, 0.845), (839, 1.0), (861, 0.085), (899, 0.011), (936, 0.0), (974, 0.0), (1011, 0.0), (1049, 0.0), (1086, 0.0), (1124, 0.0), (1161, 0.0), (1198, 0.0), (1243, 0.0), (1281, 0.052), (1311, 0.085), (1341, 0.119), (1378, 0.175), (1401, 0.186), (1431, 0.224), (1468, 0.298), (1498, 0.32), (1528, 0.399), (1551, 0.428), (1581, 0.478), (1611, 0.496), (1648, 0.5), (1670, 0.507)]
pts_097 = [(0, 0.922), (22, 0.383), (52, 0.197), (75, 0.186), (105, 0.175), (127, 0.22), (150, 0.141), (180, 0.123), (210, 0.101), (240, 0.078), (270, 0.063), (300, 0.052), (315, 0.119), (352, 0.096), (382, 0.13), (412, 0.168), (442, 0.209), (472, 0.242), (502, 0.256), (532, 0.309), (562, 0.354), (599, 0.361), (629, 0.444), (667, 0.433), (689, 0.556), (704, 0.563), (749, 0.428), (779, 0.673), (809, 0.832), (839, 0.504), (869, 0.616), (899, 0.677), (929, 0.713), (966, 0.713), (1004, 0.868), (1034, 0.886), (1079, 0.89), (1153, 1.0), (1206, 0.886), (1228, 0.37), (1303, 0.047), (1341, 0.045), (1378, 0.04), (1468, 0.013), (1528, 0.007), (1618, 0.007)]
pts_099 = [(0, 0.778), (38, 0.135), (66, 0.056), (104, 0.018), (142, 0.011), (190, 0.011), (228, 0.011), (275, 0.011), (322, 0.011), (389, 0.029), (436, 0.022), (483, 0.025), (531, 0.025), (578, 0.029), (645, 0.097), (683, 0.22), (711, 0.539), (739, 1.0), (758, 0.557), (787, 0.261), (825, 0.124), (853, 0.074), (910, 0.04), (958, 0.029), (1005, 0.018), (1052, 0.011), (1100, 0.063), (1128, 0.135), (1157, 0.36), (1185, 0.467), (1213, 0.569), (1223, 0.506), (1261, 0.688), (1318, 0.838)]
pts_100 = [(0, 1.0), (95, 0.011), (180, 0.011), (228, 0.011), (284, 0.011), (322, 0.011), (360, 0.047), (408, 0.142), (427, 0.355), (455, 0.501), (465, 0.58), (474, 0.169), (589, 0.011), (702, 0.011), (778, 0.011), (826, 0.011), (873, 0.018), (892, 0.052), (940, 0.306), (968, 0.456), (997, 0.517), (1016, 0.119), (1054, 0.056), (1081, 0.029), (1157, 0.011), (1261, 0.011), (1308, 0.011), (1346, 0.011), (1384, 0.025), (1422, 0.04), (1460, 0.108), (1498, 0.247), (1526, 0.321), (1555, 0.389), (1583, 0.618), (1612, 0.771)]
pts_101 = [(0, 0.337), (76, 0.011), (142, 0.011), (209, 0.007), (247, 0.007), (285, 0.007), (322, 0.011), (360, 0.011), (398, 0.018), (436, 0.029), (474, 0.052), (512, 0.074), (550, 0.108), (588, 0.153), (617, 0.276), (654, 0.097), (711, 0.025), (759, 0.022), (806, 0.025), (854, 0.034), (892, 0.04), (930, 0.045), (968, 0.108), (996, 0.281), (1024, 0.276), (1081, 0.097), (1119, 0.097), (1166, 0.085), (1213, 0.097), (1251, 0.079), (1299, 0.22), (1365, 1.0), (1413, 0.629), (1460, 0.962)]
pts_102 = [(0, 0.573), (28, 0.119), (66, 0.097), (95, 0.07), (123, 0.052), (161, 0.034), (199, 0.022), (237, 0.018), (265, 0.011), (285, 0.142), (322, 0.276), (370, 0.494), (436, 0.7), (465, 0.737), (512, 1.0), (569, 0.119), (588, 0.074), (626, 0.052), (664, 0.034), (702, 0.029), (778, 0.056), (835, 0.389), (863, 0.62), (892, 0.595), (939, 0.91), (987, 0.494), (1024, 0.101), (1052, 0.063), (1138, 0.108), (1261, 0.91)]
pts_104 = [(0, 1.0), (76, 0.119), (161, 0.056), (218, 0.011), (285, 0.011), (322, 0.056), (351, 0.085), (389, 0.103), (427, 0.108), (465, 0.142), (503, 0.198), (531, 0.236), (560, 0.258), (588, 0.355), (626, 0.461), (683, 0.591), (711, 0.748), (740, 0.798), (816, 0.227), (987, 0.097), (1043, 0.04), (1071, 0.074), (1109, 0.153), (1138, 0.202), (1185, 0.299), (1213, 0.321), (1251, 0.456), (1280, 0.467), (1308, 0.546), (1337, 0.703), (1375, 0.737), (1422, 0.467), (1536, 0.146)]
pts_105 = [(0, 1.0), (75, 0.052), (165, 0.011), (202, 0.011), (240, 0.011), (277, 0.018), (322, 0.101), (352, 0.142), (389, 0.204), (442, 0.326), (464, 0.407), (487, 0.445), (509, 0.544), (539, 0.647), (569, 0.798), (622, 0.227), (652, 0.182), (727, 0.164), (846, 0.119), (906, 0.119), (936, 0.164), (959, 0.231), (981, 0.4), (1011, 0.544), (1041, 0.764), (1071, 0.966), (1093, 0.422), (1131, 0.299), (1221, 0.243), (1326, 0.186), (1431, 0.191), (1461, 0.236), (1506, 0.16), (1550, 0.292), (1595, 0.344), (1640, 0.508)]
pts_106 = [(0, 0.883), (37, 0.175), (67, 0.13), (97, 0.04), (127, 0.029), (157, 0.018), (187, 0.011), (217, 0.011), (247, 0.002), (277, 0.011), (307, 0.052), (337, 0.097), (367, 0.153), (404, 0.169), (434, 0.213), (479, 0.378), (509, 0.378), (539, 0.452), (569, 0.519), (599, 0.551), (629, 0.647), (674, 0.647), (704, 0.764), (734, 1.0), (757, 0.182), (786, 0.097), (816, 0.074), (846, 0.063), (876, 0.052), (906, 0.04), (936, 0.034), (974, 0.029), (1011, 0.025), (1049, 0.025), (1086, 0.052), (1123, 0.085), (1161, 0.13), (1198, 0.164), (1228, 0.198), (1266, 0.243), (1296, 0.258), (1333, 0.276)]
pts_108 = [(0, 1.0), (37, 0.182), (60, 0.07), (90, 0.04), (120, 0.029), (150, 0.018), (180, 0.011), (210, 0.002), (240, 0.002), (270, 0.002), (300, 0.011), (330, 0.025), (360, 0.04), (389, 0.056), (419, 0.074), (449, 0.085), (509, 0.108), (539, 0.124), (577, 0.146), (614, 0.164), (652, 0.198), (689, 0.213), (727, 0.198), (771, 0.22), (801, 0.22), (846, 0.265), (876, 0.299), (951, 0.348), (1011, 0.389), (1094, 0.618), (1124, 0.169), (1161, 0.063), (1213, 0.018), (1281, 0.018), (1378, 0.007), (1491, 0.002), (1580, 0.018)]
pts_109 = [(0, 1.0), (22, 0.13), (52, 0.085), (82, 0.07), (112, 0.056), (142, 0.047), (172, 0.034), (202, 0.029), (232, 0.022), (262, 0.011), (292, 0.011), (322, 0.04), (352, 0.097), (390, 0.164), (427, 0.258), (457, 0.389), (480, 0.551), (502, 0.614), (532, 0.636), (562, 0.76), (592, 0.811), (614, 0.924), (644, 0.276), (674, 0.146), (704, 0.108), (734, 0.115), (764, 0.101), (794, 0.119), (824, 0.153), (854, 0.097), (884, 0.142), (914, 0.157), (944, 0.182), (981, 0.191)]

patients = ['001', '002', '003', '004', '006', '011', '012', '013', '014',
            '015', '016', '017', '019', '020', '022', '024', '025', '026',
            '028', '029', '030', '031', '032', '036', '037', '039', '040',
            '041', '042', '044', '046', '050', '051', '052', '054', '055',
            '056', '058', '060', '061', '062', '063', '064', '066', '071',
            '075', '077', '078', '079', '081', '083', '084', '085', '086',
            '087', '088', '091', '092', '093', '094', '095', '096', '097',
            '099', '100', '101', '102', '104', '105', '106', '108', '109']

fig, axes = plt.subplots(8, 9, sharex=True, sharey=True, figsize=(30, 20), dpi=100)

for ax, pid in zip(axes.flat, patients):
    pts = globals()['pts_' + pid]
    days = [p[0] for p in pts]
    psa = [p[1] for p in pts]
    ax.plot(days, psa, 'k.')
    ax.text(0.95, 0.95, pid, transform=ax.transAxes, ha='right', va='top', fontsize=24)

axes[0, 0].set_xticks([0, 2000])
axes[0, 0].set_yticks([0, 1])

fig.suptitle('Patients from Bruchovsky trial', fontsize=29)
fig.text(0.5, 0.022, 'Treatment progression (days)', ha='center', va='center', fontsize=29)
fig.text(0.026, 0.5, 'PSA', ha='center', va='center', rotation=90, fontsize=29)

plt.savefig('out.png')
